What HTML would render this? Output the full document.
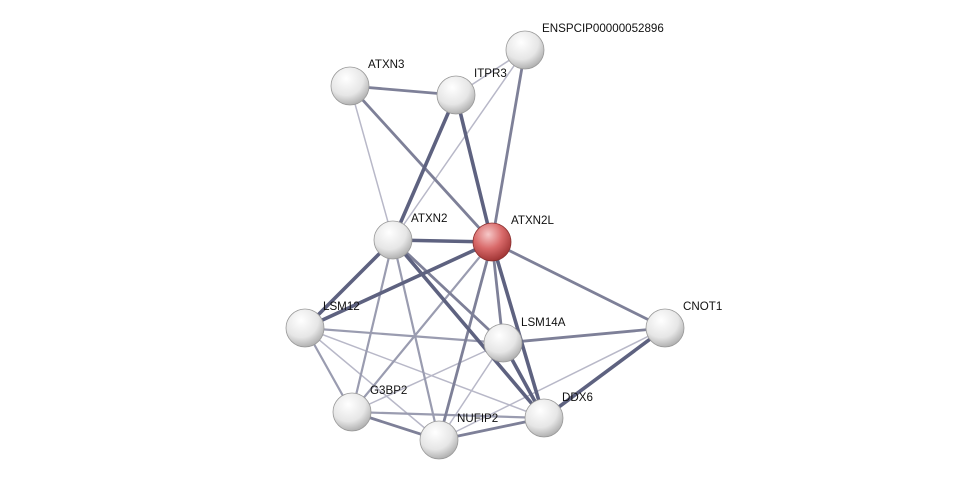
<!DOCTYPE html>
<html><head><meta charset="utf-8"><style>
html,body{margin:0;padding:0;background:#fff;}
svg{display:block;}
text{font-family:"Liberation Sans",sans-serif;font-size:11.6px;fill:#111;}
</style></head><body>
<svg width="975" height="485" viewBox="0 0 975 485">
<defs>
<radialGradient id="g" cx="0.4" cy="0.3" r="0.75">
<stop offset="0" stop-color="#ffffff"/><stop offset="0.6" stop-color="#e6e6e6"/><stop offset="1" stop-color="#a8a8a8"/>
</radialGradient>
<radialGradient id="r" cx="0.4" cy="0.3" r="0.75">
<stop offset="0" stop-color="#f6c8c8"/><stop offset="0.5" stop-color="#d96a6a"/><stop offset="1" stop-color="#9a2f2f"/>
</radialGradient>
</defs>
<g stroke-linecap="round">
<g stroke="#b8b8c8" stroke-width="1.5">
<line x1="350" y1="86" x2="393" y2="240"/>
<line x1="525" y1="50" x2="393" y2="240"/>
<line x1="456" y1="95" x2="525" y2="50"/>
<line x1="305" y1="328" x2="544" y2="418"/>
<line x1="305" y1="328" x2="439" y2="440"/>
<line x1="503" y1="343" x2="352" y2="412"/>
<line x1="503" y1="343" x2="439" y2="440"/>
<line x1="665" y1="328" x2="439" y2="440"/>
<line x1="665" y1="328" x2="544" y2="418"/>
</g>
<g stroke="#9a9cb0" stroke-width="2.2">
<line x1="393" y1="240" x2="352" y2="412"/>
<line x1="393" y1="240" x2="439" y2="440"/>
<line x1="492" y1="242" x2="352" y2="412"/>
<line x1="305" y1="328" x2="503" y2="343"/>
<line x1="305" y1="328" x2="352" y2="412"/>
<line x1="352" y1="412" x2="544" y2="418"/>
</g>
<g stroke="#7e8098" stroke-width="2.8">
<line x1="350" y1="86" x2="456" y2="95"/>
<line x1="350" y1="86" x2="492" y2="242"/>
<line x1="525" y1="50" x2="492" y2="242"/>
<line x1="393" y1="240" x2="503" y2="343"/>
<line x1="492" y1="242" x2="439" y2="440"/>
<line x1="492" y1="242" x2="665" y2="328"/>
<line x1="503" y1="343" x2="665" y2="328"/>
<line x1="352" y1="412" x2="439" y2="440"/>
<line x1="439" y1="440" x2="544" y2="418"/>
<line x1="492" y1="242" x2="503" y2="343"/>
</g>
<g stroke="#5e6280" stroke-width="3.6">
<line x1="456" y1="95" x2="393" y2="240"/>
<line x1="456" y1="95" x2="492" y2="242"/>
<line x1="393" y1="240" x2="492" y2="242"/>
<line x1="393" y1="240" x2="305" y2="328"/>
<line x1="492" y1="242" x2="305" y2="328"/>
<line x1="393" y1="240" x2="544" y2="418"/>
<line x1="492" y1="242" x2="544" y2="418"/>
<line x1="503" y1="343" x2="544" y2="418"/>
<line x1="665" y1="328" x2="544" y2="418"/>
</g>
</g>
<g stroke="#999" stroke-width="0.8">
<circle cx="525" cy="50" r="19" fill="url(#g)"/>
<circle cx="350" cy="86" r="19" fill="url(#g)"/>
<circle cx="456" cy="95" r="19" fill="url(#g)"/>
<circle cx="393" cy="240" r="19" fill="url(#g)"/>
<circle cx="492" cy="242" r="19" fill="url(#r)" stroke="#8a3030"/>
<circle cx="305" cy="328" r="19" fill="url(#g)"/>
<circle cx="503" cy="343" r="19" fill="url(#g)"/>
<circle cx="665" cy="328" r="19" fill="url(#g)"/>
<circle cx="352" cy="412" r="19" fill="url(#g)"/>
<circle cx="439" cy="440" r="19" fill="url(#g)"/>
<circle cx="544" cy="418" r="19" fill="url(#g)"/>
</g>
<text x="542" y="32">ENSPCIP00000052896</text>
<text x="368" y="68">ATXN3</text>
<text x="474" y="77">ITPR3</text>
<text x="411" y="222">ATXN2</text>
<text x="511" y="224">ATXN2L</text>
<text x="323" y="310">LSM12</text>
<text x="521" y="326">LSM14A</text>
<text x="683" y="310">CNOT1</text>
<text x="370" y="394">G3BP2</text>
<text x="457" y="422">NUFIP2</text>
<text x="562" y="401">DDX6</text>
</svg>
</body></html>
